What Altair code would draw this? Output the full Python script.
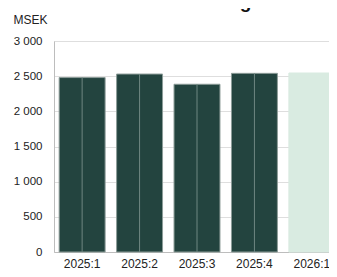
import altair as alt
import pandas as pd

quarters = ["2025:1", "2025:2", "2025:3", "2025:4", "2026:1"]
values = [2480, 2530, 2385, 2540, 2545]
kind = ["utfall", "utfall", "utfall", "utfall", "prognos"]
y_ticks = [0, 500, 1000, 1500, 2000, 2500, 3000]

df = pd.DataFrame({"q": quarters, "v": values, "k": kind})

color_scale = alt.Scale(domain=["utfall", "prognos"], range=["#23443f", "#d9ebe1"])

x_scale = alt.Scale(paddingInner=0.2, paddingOuter=0.09)
x_axis = alt.Axis(
    title=None, labelAngle=0, ticks=False, labelPadding=6, labelFontSize=12,
    labelColor="#222", domainColor="#bdbdbd", grid=False, labelFont="Liberation Sans",
)
y_axis = alt.Axis(
    title="MSEK", titleAngle=0, titleAlign="left", titleBaseline="middle",
    titleX=-41, titleY=-22, titleFontSize=12, titleFontWeight="normal",
    titleColor="#222", titleFont="Liberation Sans",
    values=y_ticks, tickCount=7, labelOverlap=False, labelSeparation=0,
    ticks=False, labelPadding=12, labelFontSize=11.5, labelColor="#222",
    labelFont="Liberation Sans",
    domainColor="#bdbdbd", gridColor="#dedede",
)
y_scale = alt.Scale(domain=[0, 3000], nice=False)

bars = alt.Chart(df).mark_bar(strokeWidth=1).encode(
    x=alt.X("q:N", sort=quarters, scale=x_scale, axis=x_axis),
    y=alt.Y("v:Q", scale=y_scale, axis=y_axis),
    color=alt.Color("k:N", scale=color_scale, legend=None),
    stroke=alt.condition(alt.datum.k == "utfall", alt.value("#8c9c98"), alt.value("#d9ebe1")),
)

mid = alt.Chart(df).transform_filter(alt.datum.k == "utfall").mark_rule(
    color="#6f8782", strokeWidth=1
).encode(
    x=alt.X("q:N", sort=quarters, scale=x_scale, axis=x_axis),
    y=alt.Y("v:Q", scale=y_scale, axis=y_axis),
    y2=alt.datum(0),
)

chart = alt.layer(bars, mid).properties(
    width=286,
    height=211,
    title=alt.TitleParams(
        "Nettoomsättning", fontSize=19, font="Liberation Sans", fontWeight="bold",
        color="#111", anchor="middle", dx=-21, offset=-14, baseline="alphabetic",
    ),
    autosize=alt.AutoSizeParams(type="none"),
    padding={"left": 46, "top": 33, "right": -11, "bottom": 17},
).configure_view(stroke=None).configure(
    numberFormat=",d",
    locale={"number": {"decimal": ",", "thousands": "\u00a0", "grouping": [3], "currency": ["", " kr"]}},
)

chart.save("out.html", embed_options={"renderer": "svg", "actions": False})
